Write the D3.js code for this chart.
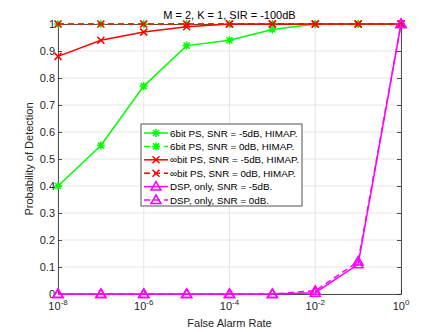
<!DOCTYPE html>
<html><head><meta charset="utf-8">
<script src="https://cdn.jsdelivr.net/npm/d3@7"></script>
<style>body{margin:0;background:#fff;} text{font-family:"Liberation Sans",Arial,sans-serif;}</style>
</head><body><svg id="c" width="443" height="332"></svg>
<script>
const xVals = [1e-8,1e-7,1e-6,1e-5,1e-4,1e-3,1e-2,1e-1,1e0];
const pd6bitM5 = [0.40,0.55,0.77,0.92,0.94,0.98,1,1,1];
const pd6bit0 = [1,1,1,1,1,1,1,1,1];
const pdInfM5 = [0.88,0.94,0.97,0.99,1,1,1,1,1];
const pdInf0 = [1,1,1,1,1,1,1,1,1];
const pdDspM5 = [0,0,0,0,0,0,0.005,0.11,1];
const pdDsp0 = [0,0,0,0,0,0,0.012,0.12,1];
const seriesNames = ["6bit PS, SNR = -5dB, HIMAP.","6bit PS, SNR = 0dB, HIMAP.","\u221Ebit PS, SNR = -5dB, HIMAP.","\u221Ebit PS, SNR = 0dB, HIMAP.","DSP, only, SNR = -5dB.","DSP, only, SNR = 0dB."];
const xTickExp = [-8,-6,-4,-2,0];
const yTicks = [0,0.1,0.2,0.3,0.4,0.5,0.6,0.7,0.8,0.9,1];
const title = "M = 2, K = 1, SIR = -100dB";
const xLabel = "False Alarm Rate";
const yLabel = "Probability of Detection";

const series = [
  {name:seriesNames[0], y:pd6bitM5, color:"#00ff00", dash:null, marker:"star"},
  {name:seriesNames[1], y:pd6bit0, color:"#00ff00", dash:"6,4", marker:"star"},
  {name:seriesNames[2], y:pdInfM5, color:"#ff0000", dash:null, marker:"x"},
  {name:seriesNames[3], y:pdInf0, color:"#ff0000", dash:"6,4", marker:"x"},
  {name:seriesNames[4], y:pdDspM5, color:"#ff00ff", dash:null, marker:"tri"},
  {name:seriesNames[5], y:pdDsp0, color:"#ff00ff", dash:"6,4", marker:"tri"}
];

const L=58, R=401, T=24, B=294;
const svg = d3.select("#c");
const x = d3.scaleLog().domain([1e-8,1]).range([L,R]);
const y = d3.scaleLinear().domain([0,1]).range([B,T]);
const axisCol = "#262626";

// grid
const g = svg.append("g");
const xGrid = xTickExp.map(e=>Math.pow(10,e));
g.selectAll(".gx").data(xGrid).enter().append("line")
 .attr("x1",d=>x(d)).attr("x2",d=>x(d)).attr("y1",T).attr("y2",B)
 .attr("stroke","#e6e6e6").attr("stroke-width",1);
g.selectAll(".gy").data(yTicks).enter().append("line")
 .attr("x1",L).attr("x2",R).attr("y1",d=>y(d)).attr("y2",d=>y(d))
 .attr("stroke","#e6e6e6").attr("stroke-width",1);

// axes
const xAxis = d3.axisBottom(x).tickValues(xGrid).tickSizeInner(-4).tickSizeOuter(0).tickFormat("");
const xAxisTop = d3.axisTop(x).tickValues(xGrid).tickSizeInner(-4).tickSizeOuter(0).tickFormat("");
const yAxis = d3.axisLeft(y).tickValues(yTicks).tickSizeInner(-4).tickSizeOuter(0).tickFormat("");
const yAxisR = d3.axisRight(y).tickValues(yTicks).tickSizeInner(-4).tickSizeOuter(0).tickFormat("");
function styleAx(sel){ sel.selectAll("path,line").attr("stroke",axisCol).attr("stroke-width",0.8); }
svg.append("g").attr("transform",`translate(0,${B})`).call(xAxis).call(styleAx);
svg.append("g").attr("transform",`translate(0,${T})`).call(xAxisTop).call(styleAx);
svg.append("g").attr("transform",`translate(${L},0)`).call(yAxis).call(styleAx);
svg.append("g").attr("transform",`translate(${R},0)`).call(yAxisR).call(styleAx);

// tick labels
const xl = svg.append("g");
xTickExp.forEach(e=>{
  const t = xl.append("text").attr("x",x(Math.pow(10,e))).attr("y",B+16)
   .attr("text-anchor","middle").attr("fill",axisCol).attr("font-size",11);
  t.append("tspan").text("10");
  t.append("tspan").attr("dy",-5).attr("font-size",8).text(String(e));
});
svg.append("g").selectAll("text").data(yTicks).enter().append("text")
 .attr("x",L-3).attr("y",d=>y(d)+4).attr("text-anchor","end")
 .attr("fill",axisCol).attr("font-size",11)
 .text(d=>d===0?"0":(d===1?"1":d.toFixed(1)));

svg.append("text").attr("x",(L+R)/2).attr("y",19).attr("text-anchor","middle")
 .attr("fill","#000").attr("font-size",11).text(title);
svg.append("text").attr("x",(L+R)/2).attr("y",327).attr("text-anchor","middle")
 .attr("fill",axisCol).attr("font-size",11).text(xLabel);
svg.append("text").attr("transform",`translate(33,${(T+B)/2}) rotate(-90)`).attr("text-anchor","middle")
 .attr("fill",axisCol).attr("font-size",11).text(yLabel);

function drawMarker(sel, type, cx, cy, color){
  const s=4;
  if(type==="star"){
    const p = `M${cx-s},${cy}L${cx+s},${cy}M${cx},${cy-s}L${cx},${cy+s}M${cx-s*0.75},${cy-s*0.75}L${cx+s*0.75},${cy+s*0.75}M${cx-s*0.75},${cy+s*0.75}L${cx+s*0.75},${cy-s*0.75}`;
    sel.append("path").attr("d",p).attr("stroke",color).attr("stroke-width",1.5).attr("fill","none");
  } else if(type==="x"){
    const a=3.5;
    sel.append("path").attr("d",`M${cx-a},${cy-a}L${cx+a},${cy+a}M${cx-a},${cy+a}L${cx+a},${cy-a}`)
     .attr("stroke",color).attr("stroke-width",1.5).attr("fill","none");
  } else {
    const h=5;
    sel.append("path").attr("d",`M${cx},${cy-h}L${cx+h},${cy+h*0.7}L${cx-h},${cy+h*0.7}Z`)
     .attr("stroke",color).attr("stroke-width",1.5).attr("fill","none");
  }
}

const line = d3.line().x(d=>x(d[0])).y(d=>y(d[1]));
const plot = svg.append("g");
series.forEach(s=>{
  const pts = xVals.map((v,i)=>[v,s.y[i]]);
  plot.append("path").attr("d",line(pts)).attr("fill","none")
   .attr("stroke",s.color).attr("stroke-width",1.5)
   .attr("stroke-dasharray",s.dash);
  const mg = plot.append("g");
  pts.forEach(p=>drawMarker(mg,s.marker,x(p[0]),y(p[1]),s.color));
});

// legend
const lx=141, ly=124, lw=161, lh=82;
const lg = svg.append("g");
lg.append("rect").attr("x",lx).attr("y",ly).attr("width",lw).attr("height",lh)
 .attr("fill","#fff").attr("stroke",axisCol).attr("stroke-width",0.8);
series.forEach((s,i)=>{
  const yy = ly+9+i*13.4;
  lg.append("line").attr("x1",lx+3).attr("x2",lx+27).attr("y1",yy).attr("y2",yy)
   .attr("stroke",s.color).attr("stroke-width",1.5).attr("stroke-dasharray",s.dash);
  drawMarker(lg,s.marker,lx+15,yy,s.color);
  lg.append("text").attr("x",lx+29).attr("y",yy+3.5).attr("font-size",9.8)
   .attr("fill","#000").text(s.name);
});
</script></body></html>
